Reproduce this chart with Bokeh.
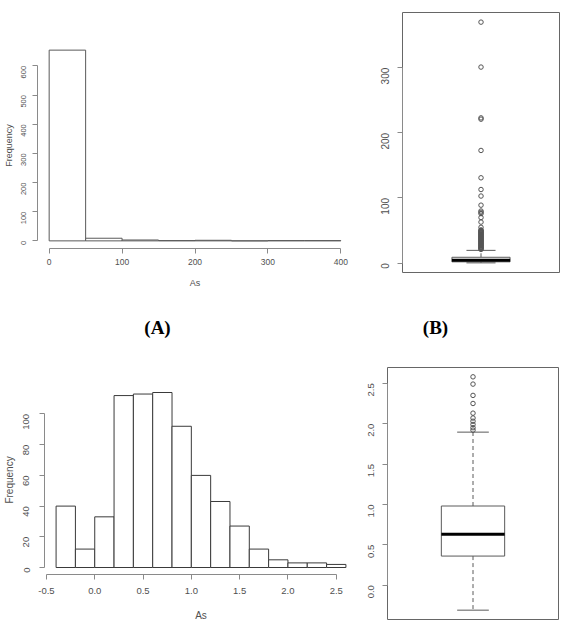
import math

from bokeh.core.properties import value
from bokeh.embed import file_html
from bokeh.layouts import column, row
from bokeh.models import ColumnDataSource, FixedTicker, Range1d
from bokeh.plotting import figure
from bokeh.resources import INLINE

# ---------------------------------------------------------------- data
# (A) histogram of raw As concentrations
raw_breaks = [0, 50, 100, 150, 200, 250, 300, 350, 400]
raw_counts = [654, 9, 3, 1, 2, 0, 1, 1]
raw_x_ticks = [0, 100, 200, 300, 400]
raw_y_ticks = [0, 100, 200, 300, 400, 500, 600]

# (B) boxplot of raw As concentrations
raw_whisker_low = 0.4
raw_q1 = 2.0
raw_median = 4.5
raw_q3 = 9.0
raw_whisker_high = 19.6
raw_outliers = [370, 301, 223, 221, 173, 131, 113, 103, 89, 80, 78, 76, 70,
                63, 55, 51, 50, 49, 48, 47, 46, 45, 44, 43, 42, 41, 40, 39,
                38, 37, 36, 35, 34, 33, 32, 31, 30, 29, 28, 27, 26, 25, 24,
                23, 22, 21]
raw_box_ticks = [0, 100, 200, 300]

# (C) histogram of log10(As)
log_breaks = [-0.4, -0.2, 0.0, 0.2, 0.4, 0.6, 0.8, 1.0, 1.2, 1.4, 1.6, 1.8,
              2.0, 2.2, 2.4, 2.6]
log_counts = [40, 12, 33, 112, 113, 114, 92, 60, 43, 27, 12, 5, 3, 3, 2]
log_x_ticks = [-0.5, 0.0, 0.5, 1.0, 1.5, 2.0, 2.5]
log_x_labels = ["-0.5", "0.0", "0.5", "1.0", "1.5", "2.0", "2.5"]
log_y_ticks = [0, 20, 40, 60, 80, 100]

# (D) boxplot of log10(As)
log_whisker_low = -0.31
log_q1 = 0.36
log_median = 0.63
log_q3 = 0.98
log_whisker_high = 1.895
log_outliers = [2.58, 2.49, 2.35, 2.25, 2.13, 2.07, 2.03, 1.99, 1.95, 1.92]
log_box_ticks = [0.0, 0.5, 1.0, 1.5, 2.0, 2.5]
log_box_labels = ["0.0", "0.5", "1.0", "1.5", "2.0", "2.5"]

panel_tags = ["(A)", "(B)"]

# ---------------------------------------------------------------- style
FONT = "Liberation Sans"
AXIS_COLOR = "#8a8a8a"
TEXT_COLOR = "#505050"
BAR_LINE_A = "#5a5a5a"
BAR_LINE_C = "#3a3a3a"
BOX_LINE = "#5a5a5a"


def padded(lo, hi, frac=0.04):
    pad = (hi - lo) * frac
    return lo - pad, hi + pad


def base_fig(width, height, x_range, y_range, borders, outline=None):
    left, right, top, bottom = borders
    p = figure(width=width, height=height, output_backend="svg",
               toolbar_location=None, x_range=Range1d(*x_range),
               y_range=Range1d(*y_range), min_border_left=left,
               min_border_right=right, min_border_top=top,
               min_border_bottom=bottom, background_fill_color="white",
               border_fill_color="white", frame_align=False)
    p.grid.visible = False
    p.outline_line_color = outline
    return p


def style_axis(ax, ticks, bounds, font_px, standoff, labels=None, vertical=False):
    ax.ticker = FixedTicker(ticks=ticks)
    ax.bounds = bounds
    ax.axis_line_color = AXIS_COLOR
    ax.major_tick_line_color = AXIS_COLOR
    ax.major_tick_out = 5
    ax.major_tick_in = 0
    ax.minor_tick_line_color = None
    ax.major_label_text_font = FONT
    ax.major_label_text_font_size = f"{font_px}px"
    ax.major_label_text_color = TEXT_COLOR
    ax.major_label_standoff = standoff
    if vertical:
        ax.major_label_orientation = math.pi / 2
    if labels is not None:
        ax.major_label_overrides = {t: s for t, s in zip(ticks, labels)}


def axis_title(ax, text, font_px, standoff):
    ax.axis_label = text
    ax.axis_label_text_font = FONT
    ax.axis_label_text_font_size = f"{font_px}px"
    ax.axis_label_text_font_style = "normal"
    ax.axis_label_text_color = TEXT_COLOR
    ax.axis_label_standoff = standoff


def histogram(p, breaks, counts, line_color):
    src = ColumnDataSource(dict(left=breaks[:-1], right=breaks[1:],
                                top=counts, bottom=[0] * len(counts)))
    p.quad(left="left", right="right", top="top", bottom="bottom", source=src,
           fill_color="white", line_color=line_color, line_width=1)


def boxplot(p, lo, q1, med, q3, hi, outliers):
    half_box, half_cap = 0.2, 0.1
    p.segment(x0=[1, 1], y0=[q3, q1], x1=[1, 1], y1=[hi, lo],
              line_color=BOX_LINE, line_width=1, line_dash="4 3")
    p.segment(x0=[1 - half_cap] * 2, x1=[1 + half_cap] * 2, y0=[hi, lo],
              y1=[hi, lo], line_color=BOX_LINE, line_width=1)
    p.quad(left=[1 - half_box], right=[1 + half_box], bottom=[q1], top=[q3],
           fill_color="white", line_color=BOX_LINE, line_width=1)
    p.segment(x0=[1 - half_box], x1=[1 + half_box], y0=[med], y1=[med],
              line_color="black", line_width=3)
    p.scatter(x=[1] * len(outliers), y=outliers, marker="circle", size=4.5,
              fill_color=None, line_color="#555555", line_width=1)


# ---------------------------------------------------------------- (A)
pa = base_fig(360, 300, padded(raw_breaks[0], raw_breaks[-1]),
              padded(0, max(raw_counts)), (36, 8, 42, 52))
histogram(pa, raw_breaks, raw_counts, BAR_LINE_A)
style_axis(pa.xaxis[0], raw_x_ticks, (raw_x_ticks[0], raw_x_ticks[-1]), 8.5, 5)
style_axis(pa.yaxis[0], raw_y_ticks, (raw_y_ticks[0], raw_y_ticks[-1]), 7.5, 9,
           vertical=True)
axis_title(pa.xaxis[0], "As", 9, 10)
axis_title(pa.yaxis[0], "Frequency", 9, 2)

# ---------------------------------------------------------------- (B)
pb = base_fig(201, 300, padded(0.5, 1.5),
              padded(raw_whisker_low, max(raw_outliers)), (42, 2, 12, 28),
              outline="#666666")
pb.xaxis.visible = False
boxplot(pb, raw_whisker_low, raw_q1, raw_median, raw_q3, raw_whisker_high,
        raw_outliers)
style_axis(pb.yaxis[0], raw_box_ticks, (raw_box_ticks[0], raw_box_ticks[-1]),
           10, 12, vertical=True)

# ---------------------------------------------------------------- tags
tags = figure(width=561, height=45, output_backend="svg", toolbar_location=None,
              x_range=Range1d(0, 561), y_range=Range1d(45, 0), min_border=0,
              outline_line_color=None, frame_align=False)
tags.axis.visible = False
tags.grid.visible = False
tags.text(x=[157, 435], y=[27, 27], text=panel_tags, text_align="center",
          text_baseline="middle", text_font=value("Liberation Serif"),
          text_font_style="bold", text_font_size="19px", text_color="black")

# ---------------------------------------------------------------- (C)
pc = base_fig(360, 279, padded(log_breaks[0], log_breaks[-1]),
              padded(0, max(log_counts)), (44, 3, 40, 50))
histogram(pc, log_breaks, log_counts, BAR_LINE_C)
style_axis(pc.xaxis[0], log_x_ticks, (log_x_ticks[0], log_x_ticks[-1]), 9.5, 8,
           labels=log_x_labels)
style_axis(pc.yaxis[0], log_y_ticks, (log_y_ticks[0], log_y_ticks[-1]), 9.5, 13,
           vertical=True)
axis_title(pc.xaxis[0], "As", 10, 13)
axis_title(pc.yaxis[0], "Frequency", 10, 3)

# ---------------------------------------------------------------- (D)
pd_ = base_fig(201, 279, padded(0.5, 1.5),
               padded(log_whisker_low, max(log_outliers)), (27, 3, 22, 5),
               outline="#666666")
pd_.xaxis.visible = False
boxplot(pd_, log_whisker_low, log_q1, log_median, log_q3, log_whisker_high,
        log_outliers)
style_axis(pd_.yaxis[0], log_box_ticks, (log_box_ticks[0], log_box_ticks[-1]),
           9.5, 11, labels=log_box_labels, vertical=True)

layout = column(row(pa, pb), tags, row(pc, pd_))

with open("out.html", "w") as f:
    f.write(file_html(layout, INLINE))
